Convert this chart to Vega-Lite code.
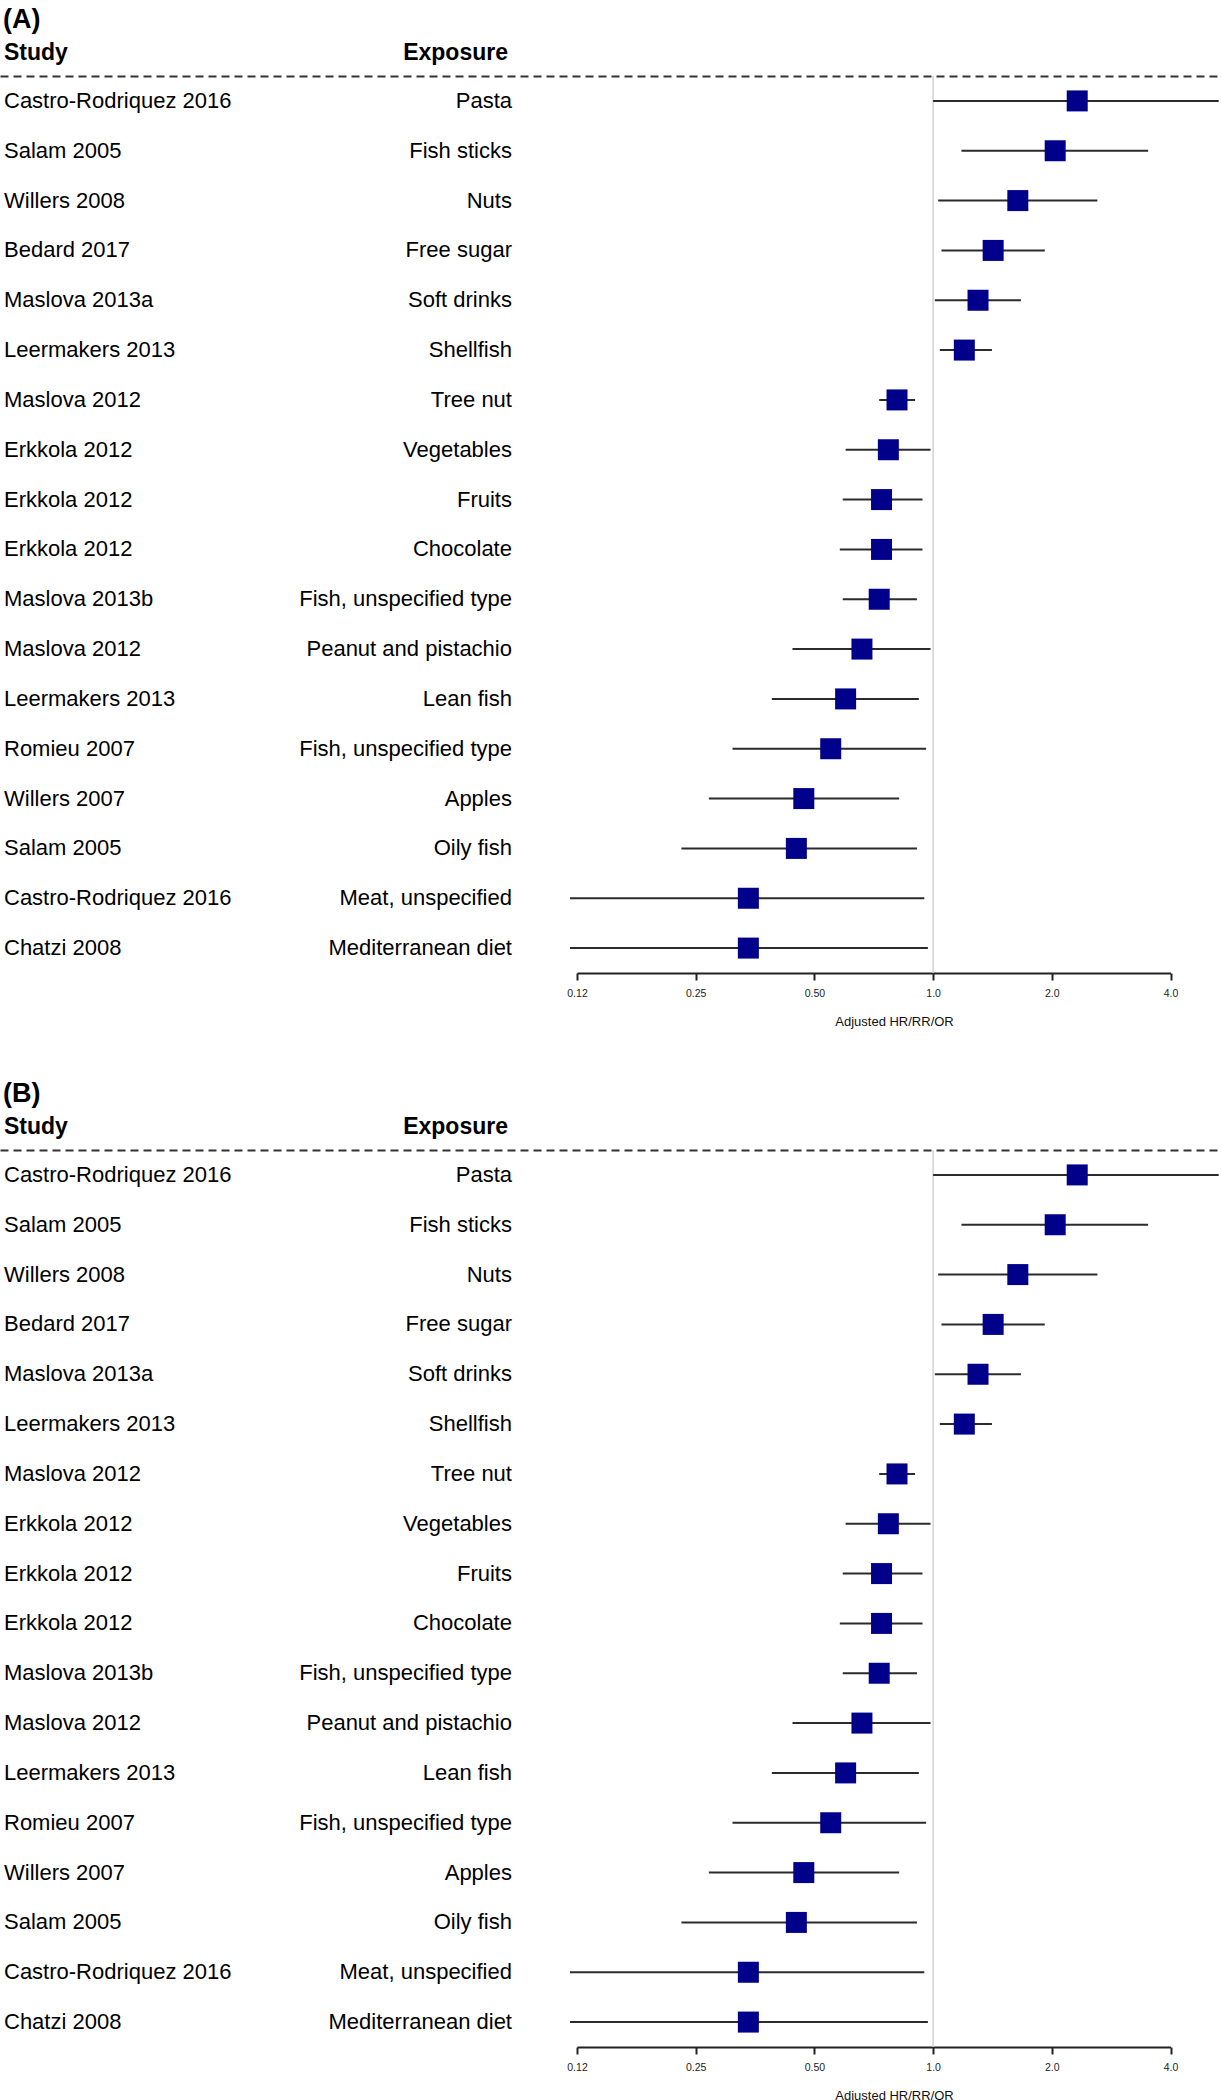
{
  "$schema": "https://vega.github.io/schema/vega-lite/v6.json",
  "padding": {"top": 6, "left": 0, "right": 0, "bottom": 0},
  "background": "white",
  "autosize": {"type": "pad"},
  "config": {"view": {"stroke": null}, "font": "Liberation Sans"},
  "datasets": {
    "forest": [
      {"row": 1, "study": "Castro-Rodriquez 2016", "exposure": "Pasta", "or": 2.32, "lo": 1.0, "hi": 5.3},
      {"row": 2, "study": "Salam 2005", "exposure": "Fish sticks", "or": 2.04, "lo": 1.18, "hi": 3.51},
      {"row": 3, "study": "Willers 2008", "exposure": "Nuts", "or": 1.64, "lo": 1.03, "hi": 2.61},
      {"row": 4, "study": "Bedard 2017", "exposure": "Free sugar", "or": 1.42, "lo": 1.05, "hi": 1.92},
      {"row": 5, "study": "Maslova 2013a", "exposure": "Soft drinks", "or": 1.3, "lo": 1.01, "hi": 1.67},
      {"row": 6, "study": "Leermakers 2013", "exposure": "Shellfish", "or": 1.2, "lo": 1.04, "hi": 1.41},
      {"row": 7, "study": "Maslova 2012", "exposure": "Tree nut", "or": 0.81, "lo": 0.73, "hi": 0.9},
      {"row": 8, "study": "Erkkola 2012", "exposure": "Vegetables", "or": 0.77, "lo": 0.6, "hi": 0.985},
      {"row": 9, "study": "Erkkola 2012", "exposure": "Fruits", "or": 0.74, "lo": 0.59, "hi": 0.94},
      {"row": 10, "study": "Erkkola 2012", "exposure": "Chocolate", "or": 0.74, "lo": 0.58, "hi": 0.94},
      {"row": 11, "study": "Maslova 2013b", "exposure": "Fish, unspecified type", "or": 0.73, "lo": 0.59, "hi": 0.91},
      {"row": 12, "study": "Maslova 2012", "exposure": "Peanut and pistachio", "or": 0.66, "lo": 0.44, "hi": 0.985},
      {"row": 13, "study": "Leermakers 2013", "exposure": "Lean fish", "or": 0.6, "lo": 0.39, "hi": 0.92},
      {"row": 14, "study": "Romieu 2007", "exposure": "Fish, unspecified type", "or": 0.55, "lo": 0.31, "hi": 0.96},
      {"row": 15, "study": "Willers 2007", "exposure": "Apples", "or": 0.47, "lo": 0.27, "hi": 0.82},
      {"row": 16, "study": "Salam 2005", "exposure": "Oily fish", "or": 0.45, "lo": 0.23, "hi": 0.91},
      {"row": 17, "study": "Castro-Rodriquez 2016", "exposure": "Meat, unspecified", "or": 0.34, "lo": 0.12, "hi": 0.95},
      {"row": 18, "study": "Chatzi 2008", "exposure": "Mediterranean diet", "or": 0.34, "lo": 0.12, "hi": 0.97}
    ]
  },
  "vconcat": [
    {
      "title": {"text": "(A)", "anchor": "start", "fontSize": 27, "fontWeight": "bold", "color": "#000", "dx": 3, "offset": 7},
      "width": 1222,
      "height": 897,
      "resolve": {"scale": {"x": "independent"}, "axis": {"x": "independent"}},
      "layer": [
        {
          "data": {"name": "forest"},
          "layer": [
            {
              "mark": {"type": "text", "align": "left", "baseline": "middle", "fontSize": 22, "color": "#000", "dx": 4},
              "encoding": {
                "x": {"datum": "Study", "type": "nominal", "bandPosition": 0,
                  "scale": {"type": "band", "domain": ["Study", "Exposure"], "paddingInner": 0, "paddingOuter": 0.1934, "align": 0},
                  "axis": {"orient": "top", "title": null, "ticks": false, "tickSize": 0, "labelAngle": 0,
                    "labelFontSize": 23, "labelFontWeight": "bold", "labelColor": "#000", "labelPadding": 12,
                    "labelAlign": {"condition": {"test": "datum.value === 'Study'", "value": "left"}, "value": "right"},
                    "labelOffset": {"condition": {"test": "datum.value === 'Study'", "value": -252}, "value": -260},
                    "labelOverlap": false, "labelBound": false, "labelFlush": false, "labelLimit": 0,
                    "domainColor": "#333", "domainWidth": 2, "domainDash": [8, 5], "grid": false}},
                "y": {"field": "row", "type": "ordinal", "axis": null, "scale": {"type": "point", "padding": 0.5}},
                "text": {"field": "study"}
              }
            },
            {
              "mark": {"type": "text", "align": "right", "baseline": "middle", "fontSize": 22, "color": "#000"},
              "encoding": {
                "x": {"datum": "Exposure", "type": "nominal", "bandPosition": 0},
                "y": {"field": "row", "type": "ordinal"},
                "text": {"field": "exposure"}
              }
            }
          ]
        },
        {
          "layer": [
            {
              "data": {"values": [{"ref": 1}]},
              "mark": {"type": "rule", "color": "#d3d3d3", "strokeWidth": 1.5},
              "encoding": {
                "x": {"field": "ref", "type": "quantitative",
                  "scale": {"type": "log", "base": 2, "domain": [0.125, 4], "range": [577, 1170.5], "nice": false, "zero": false},
                  "axis": {"orient": "bottom", "values": [0.125, 0.25, 0.5, 1, 2, 4],
                    "labelExpr": "datum.value == 0.125 ? '0.12' : (datum.value < 1 ? format(datum.value, '.2f') : format(datum.value, '.1f'))",
                    "title": "Adjusted HR/RR/OR", "grid": false,
                    "domainColor": "#222", "domainWidth": 2, "tickColor": "#222", "tickWidth": 2, "tickSize": 7,
                    "labelFontSize": 10.5, "labelColor": "#222", "labelPadding": 8, "labelFlush": false, "labelOverlap": false, "labelBound": false,
                    "titleFontSize": 13, "titleFontWeight": "normal", "titleColor": "#111", "titlePadding": 17, "titleX": 894}}
              }
            },
            {
              "data": {"name": "forest"},
              "mark": {"type": "rule", "color": "#2b2b2b", "strokeWidth": 2},
              "encoding": {
                "x": {"field": "lo", "type": "quantitative"},
                "x2": {"field": "hi"},
                "y": {"field": "row", "type": "ordinal"}
              }
            },
            {
              "data": {"name": "forest"},
              "mark": {"type": "point", "shape": "square", "filled": true, "size": 441, "color": "#00008B", "opacity": 1},
              "encoding": {
                "x": {"field": "or", "type": "quantitative"},
                "y": {"field": "row", "type": "ordinal"}
              }
            }
          ]
        }
      ]
    },
    {
      "title": {"text": "(B)", "anchor": "start", "fontSize": 27, "fontWeight": "bold", "color": "#000", "dx": 3, "offset": 7},
      "width": 1222,
      "height": 897,
      "resolve": {"scale": {"x": "independent"}, "axis": {"x": "independent"}},
      "layer": [
        {
          "data": {"name": "forest"},
          "layer": [
            {
              "mark": {"type": "text", "align": "left", "baseline": "middle", "fontSize": 22, "color": "#000", "dx": 4},
              "encoding": {
                "x": {"datum": "Study", "type": "nominal", "bandPosition": 0,
                  "scale": {"type": "band", "domain": ["Study", "Exposure"], "paddingInner": 0, "paddingOuter": 0.1934, "align": 0},
                  "axis": {"orient": "top", "title": null, "ticks": false, "tickSize": 0, "labelAngle": 0,
                    "labelFontSize": 23, "labelFontWeight": "bold", "labelColor": "#000", "labelPadding": 12,
                    "labelAlign": {"condition": {"test": "datum.value === 'Study'", "value": "left"}, "value": "right"},
                    "labelOffset": {"condition": {"test": "datum.value === 'Study'", "value": -252}, "value": -260},
                    "labelOverlap": false, "labelBound": false, "labelFlush": false, "labelLimit": 0,
                    "domainColor": "#333", "domainWidth": 2, "domainDash": [8, 5], "grid": false}},
                "y": {"field": "row", "type": "ordinal", "axis": null, "scale": {"type": "point", "padding": 0.5}},
                "text": {"field": "study"}
              }
            },
            {
              "mark": {"type": "text", "align": "right", "baseline": "middle", "fontSize": 22, "color": "#000"},
              "encoding": {
                "x": {"datum": "Exposure", "type": "nominal", "bandPosition": 0},
                "y": {"field": "row", "type": "ordinal"},
                "text": {"field": "exposure"}
              }
            }
          ]
        },
        {
          "layer": [
            {
              "data": {"values": [{"ref": 1}]},
              "mark": {"type": "rule", "color": "#d3d3d3", "strokeWidth": 1.5},
              "encoding": {
                "x": {"field": "ref", "type": "quantitative",
                  "scale": {"type": "log", "base": 2, "domain": [0.125, 4], "range": [577, 1170.5], "nice": false, "zero": false},
                  "axis": {"orient": "bottom", "values": [0.125, 0.25, 0.5, 1, 2, 4],
                    "labelExpr": "datum.value == 0.125 ? '0.12' : (datum.value < 1 ? format(datum.value, '.2f') : format(datum.value, '.1f'))",
                    "title": "Adjusted HR/RR/OR", "grid": false,
                    "domainColor": "#222", "domainWidth": 2, "tickColor": "#222", "tickWidth": 2, "tickSize": 7,
                    "labelFontSize": 10.5, "labelColor": "#222", "labelPadding": 8, "labelFlush": false, "labelOverlap": false, "labelBound": false,
                    "titleFontSize": 13, "titleFontWeight": "normal", "titleColor": "#111", "titlePadding": 17, "titleX": 894}}
              }
            },
            {
              "data": {"name": "forest"},
              "mark": {"type": "rule", "color": "#2b2b2b", "strokeWidth": 2},
              "encoding": {
                "x": {"field": "lo", "type": "quantitative"},
                "x2": {"field": "hi"},
                "y": {"field": "row", "type": "ordinal"}
              }
            },
            {
              "data": {"name": "forest"},
              "mark": {"type": "point", "shape": "square", "filled": true, "size": 441, "color": "#00008B", "opacity": 1},
              "encoding": {
                "x": {"field": "or", "type": "quantitative"},
                "y": {"field": "row", "type": "ordinal"}
              }
            }
          ]
        }
      ]
    }
  ],
  "spacing": 51
}
